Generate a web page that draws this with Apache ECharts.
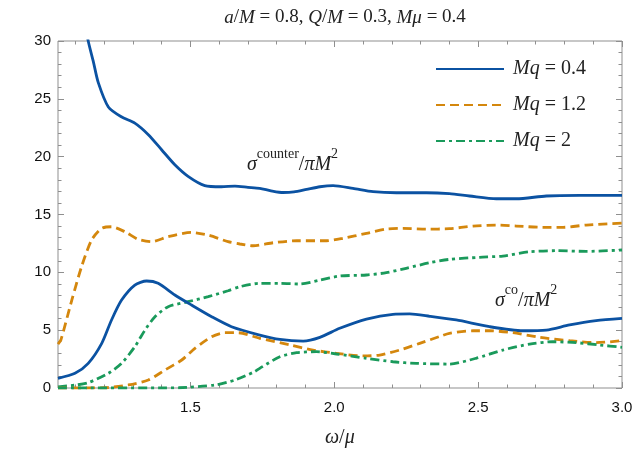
<!DOCTYPE html>
<html><head><meta charset="utf-8">
<script src="https://cdn.jsdelivr.net/npm/echarts@6/dist/echarts.min.js"></script>
<style>html,body{margin:0;padding:0;background:#fff}#c{width:638px;height:463px}</style>
</head><body><div id="c"></div>
<script>
// ---- data ----
const xMajorTicks = [1.5, 2.0, 2.5, 3.0];
const xMinorTicks = [1.1,1.2,1.3,1.4,1.6,1.7,1.8,1.9,2.1,2.2,2.3,2.4,2.6,2.7,2.8,2.9];
const seriesNames = ['Mq = 0.4', 'Mq = 1.2', 'Mq = 2'];

const counterMq04 = [[1.04,48],[1.08,40],[1.11,34.5],[1.145,30],[1.163,28.2],[1.18,26.4],[1.215,24.3],[1.26,23.45],[1.307,22.9],[1.354,21.9],[1.40,20.6],[1.446,19.3],[1.492,18.3],[1.55,17.5],[1.608,17.4],[1.655,17.45],[1.70,17.35],[1.741,17.26],[1.78,17.05],[1.822,16.9],[1.86,16.95],[1.904,17.17],[1.95,17.4],[1.996,17.5],[2.065,17.26],[2.135,16.97],[2.216,16.88],[2.32,16.88],[2.40,16.8],[2.47,16.6],[2.563,16.36],[2.633,16.36],[2.737,16.6],[2.853,16.65],[3.0,16.65]];
const counterMq12 = [[1.04,3.8],[1.05,4.15],[1.088,7.6],[1.122,10.5],[1.157,12.8],[1.192,13.8],[1.226,13.94],[1.273,13.5],[1.319,12.85],[1.365,12.65],[1.423,13.08],[1.504,13.45],[1.562,13.22],[1.631,12.65],[1.672,12.45],[1.718,12.3],[1.788,12.56],[1.869,12.73],[1.973,12.73],[2.03,12.94],[2.112,13.37],[2.181,13.74],[2.239,13.8],[2.32,13.74],[2.40,13.77],[2.482,14.0],[2.563,14.09],[2.633,14.0],[2.725,13.89],[2.795,13.89],[2.876,14.09],[3.0,14.25]];
const counterMq2 = [[1.04,0.1],[1.10,0.25],[1.145,0.46],[1.215,1.27],[1.261,2.13],[1.307,3.57],[1.342,5.0],[1.377,6.16],[1.423,7.03],[1.492,7.46],[1.562,7.9],[1.631,8.41],[1.672,8.76],[1.741,9.05],[1.811,9.05],[1.88,8.99],[1.95,9.33],[2.019,9.68],[2.112,9.77],[2.181,9.97],[2.25,10.35],[2.332,10.83],[2.40,11.12],[2.505,11.3],[2.586,11.41],[2.679,11.78],[2.772,11.87],[2.876,11.81],[3.0,11.93]];

const coMq04 = [[1.04,0.84],[1.099,1.27],[1.145,2.13],[1.192,3.86],[1.226,5.88],[1.261,7.6],[1.307,8.9],[1.348,9.25],[1.388,9.05],[1.446,8.04],[1.504,7.17],[1.574,6.16],[1.643,5.3],[1.741,4.58],[1.811,4.2],[1.892,4.06],[1.95,4.38],[2.019,5.16],[2.112,5.96],[2.204,6.37],[2.262,6.4],[2.332,6.2],[2.424,5.88],[2.54,5.3],[2.656,4.95],[2.737,5.01],[2.818,5.45],[2.91,5.82],[3.0,6.02]];
const coMq12 = [[1.04,0],[1.12,0],[1.203,0.02],[1.284,0.26],[1.354,0.69],[1.412,1.56],[1.47,2.42],[1.516,3.43],[1.574,4.43],[1.62,4.78],[1.666,4.78],[1.741,4.3],[1.846,3.72],[1.926,3.28],[2.008,3.0],[2.10,2.77],[2.158,2.85],[2.227,3.28],[2.297,3.86],[2.366,4.45],[2.40,4.73],[2.482,4.95],[2.54,4.95],[2.621,4.78],[2.714,4.38],[2.818,4.09],[2.91,3.92],[3.0,4.09]];
const coMq2 = [[1.04,0],[1.40,0],[1.46,0.02],[1.585,0.26],[1.655,0.69],[1.722,1.4],[1.741,1.7],[1.811,2.7],[1.869,3.05],[1.938,3.14],[2.008,2.94],[2.112,2.57],[2.204,2.27],[2.285,2.13],[2.40,2.07],[2.493,2.57],[2.586,3.28],[2.679,3.8],[2.76,4.0],[2.841,3.92],[2.922,3.72],[3.0,3.52]];

// ---- styling ----
const colors = ['#0b52a2', '#d4870d', '#1a9a5b'];
const dashes = ['solid', [9, 5], [9, 4, 3, 4]];
const serif = 'Liberation Serif';
const sans = 'Liberation Sans';
const frame = '#8f8f8f';
const X_MIN = 1.04, X_MAX = 3.0;

const chart = echarts.init(document.getElementById('c'), null, {renderer: 'canvas'});

function mkSeries(name, data, i) {
  return {
    name: name, type: 'line', data: data, xAxisIndex: 0, yAxisIndex: 0,
    symbol: 'none', smooth: 0.25, clip: true,
    lineStyle: {color: colors[i], width: 2.8, type: dashes[i], cap: 'butt'},
    itemStyle: {color: colors[i]}
  };
}

function xAx(pos, ticks, len, labels) {
  return {
    type: 'value', position: pos, min: X_MIN, max: X_MAX,
    axisLine: {show: false},
    splitLine: {show: false},
    axisTick: {show: true, inside: true, length: len, customValues: ticks, lineStyle: {color: frame, width: 1}},
    axisLabel: labels ? {show: true, customValues: xMajorTicks, margin: 12, color: '#111', fontFamily: sans, fontSize: 15,
      formatter: v => v.toFixed(1)} : {show: false}
  };
}
function yAx(pos, labels) {
  return {
    type: 'value', position: pos, min: 0, max: 30, interval: 5,
    axisLine: {show: false}, splitLine: {show: false},
    axisTick: {show: true, inside: true, length: 6, lineStyle: {color: frame, width: 1}},
    minorTick: {show: true, splitNumber: 5, length: 3.5, lineStyle: {color: frame, width: 1}},
    axisLabel: labels ? {show: true, margin: 7, color: '#111', fontFamily: sans, fontSize: 15} : {show: false}
  };
}

const italic = {fontFamily: serif, fontStyle: 'italic', fontWeight: 'normal', fontSize: 19, color: '#222'};
const up = {fontFamily: serif, fontWeight: 'normal', fontSize: 19, color: '#222'};
const ann = {
  s: {fontFamily: serif, fontStyle: 'italic', fontSize: 20, lineHeight: 28, verticalAlign: 'bottom', fill: '#222'},
  m: {fontFamily: serif, fontSize: 20, lineHeight: 28, verticalAlign: 'bottom', fill: '#222'},
  p: {fontFamily: serif, fontSize: 14, lineHeight: 17, verticalAlign: 'top', fill: '#222'}
};

chart.setOption({
  animation: false,
  backgroundColor: '#fff',
  grid: {left: 58, right: 16, top: 41, bottom: 75, show: true, borderColor: frame, borderWidth: 1, containLabel: false},
  title: {
    text: '{i|a}{u|/}{i|M}{u| = 0.8, }{i|Q}{u|/}{i|M}{u| = 0.3, }{i|Mμ}{u| = 0.4}',
    left: 340, textAlign: 'center', top: 3,
    textStyle: {fontWeight: 'normal', rich: {i: italic, u: up}}
  },
  legend: {
    orient: 'vertical', left: 435, top: 59, padding: 0, itemWidth: 68, itemHeight: 14, itemGap: 16,
    data: seriesNames,
    itemStyle: {color: 'transparent', borderColor: 'transparent', borderWidth: 0, opacity: 0},
    formatter: n => '{i|Mq}{u|' + n.slice(2) + '}',
    textStyle: {padding: [0, 0, 0, 4], rich: {i: {fontFamily: serif, fontStyle: 'italic', fontSize: 20, color: '#222'}, u: {fontFamily: serif, fontSize: 20, color: '#222'}}}
  },
  xAxis: [
    xAx('bottom', xMajorTicks, 6, true),
    xAx('bottom', xMinorTicks, 3.5, false),
    xAx('top', xMajorTicks, 6, false),
    xAx('top', xMinorTicks, 3.5, false)
  ],
  yAxis: [yAx('left', true), yAx('right', false)],
  graphic: [
    {type: 'text', left: 247, top: 147, style: {text: '{s|σ}{p|counter}{m|/}{s|πM}{p|2}', rich: ann}},
    {type: 'text', left: 495, top: 283, style: {text: '{s|σ}{p|co}{m|/}{s|πM}{p|2}', rich: ann}},
    {type: 'text', left: 325, top: 428, style: {
      text: '{i|ω}{u|/}{i|μ}',
      rich: {i: {fontFamily: serif, fontStyle: 'italic', fontSize: 20, fill: '#222'}, u: {fontFamily: serif, fontSize: 20, fill: '#222'}}
    }}
  ],
  series: [
    mkSeries(seriesNames[0], counterMq04, 0),
    mkSeries(seriesNames[1], counterMq12, 1),
    mkSeries(seriesNames[2], counterMq2, 2),
    mkSeries(seriesNames[0], coMq04, 0),
    mkSeries(seriesNames[1], coMq12, 1),
    mkSeries(seriesNames[2], coMq2, 2)
  ]
});
</script></body></html>
